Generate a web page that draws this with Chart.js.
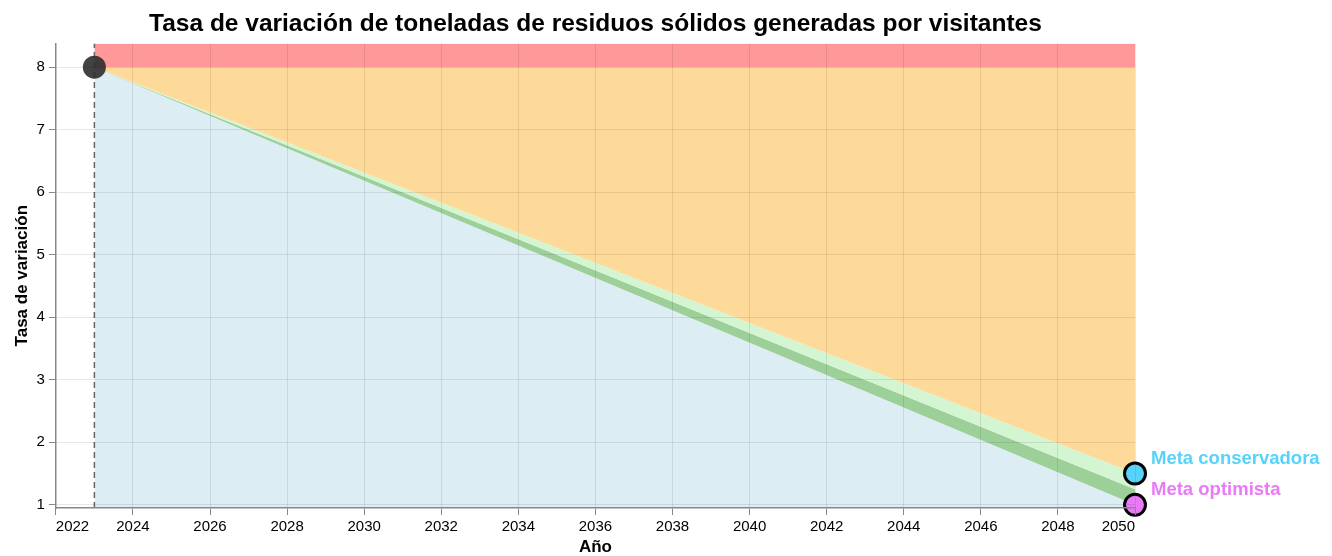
<!DOCTYPE html>
<html>
<head>
    <title>Tasa de variación de residuos sólidos</title>
    <script src="https://cdn.jsdelivr.net/npm/chart.js"></script>
    <style>
        body { margin: 0; background: #fff; }
        #wrap { width: 1332px; height: 556px; }
    </style>
</head>
<body>
    <div id="wrap"><canvas id="myChart" width="1332" height="556"></canvas></div>
    <script>
        // datos
        var years = [2023, 2050];
        var conservadora = [8, 1.5];
        var intermedia = [8, 1.25];
        var optimista = [8, 1];
        var limite = 8;
        var yMin = 0.95;
        var yMax = 8.38;
        var xMin = 2022;
        var xMax = 2050;
        var yTicks = [1, 2, 3, 4, 5, 6, 7, 8];
        var metas = [
            { label: 'Meta conservadora', year: 2050, value: 1.5, color: '#55d3fb' },
            { label: 'Meta optimista', year: 2050, value: 1, color: '#ea79f8' }
        ];

        var FONT = '"Liberation Sans", Arial, sans-serif';

        function pts(vals) {
            return years.map(function (y, i) { return { x: y, y: vals[i] }; });
        }

        // etiquetas de metas y etiquetas extremas del eje x (alineadas al borde)
        var labelsPlugin = {
            id: 'metaLabels',
            afterDraw: function (chart) {
                var ctx = chart.ctx;
                var xs = chart.scales.x, ys = chart.scales.y;
                ctx.save();
                ctx.font = 'bold 18.5px ' + FONT;
                ctx.textBaseline = 'middle';
                ctx.textAlign = 'left';
                metas.forEach(function (m) {
                    ctx.fillStyle = m.color;
                    ctx.fillText(m.label, xs.getPixelForValue(m.year) + 16, ys.getPixelForValue(m.value) - 15);
                });
                ctx.font = '15px ' + FONT;
                ctx.fillStyle = '#000';
                ctx.textBaseline = 'middle';
                var ty = chart.chartArea.bottom + 7 + 3 + 9;
                ctx.textAlign = 'left';
                ctx.fillText(String(xMin), xs.getPixelForValue(xMin), ty);
                ctx.textAlign = 'right';
                ctx.fillText(String(xMax), xs.getPixelForValue(xMax), ty);
                ctx.restore();
            }
        };

        var ctx = document.getElementById('myChart').getContext('2d');
        var myChart = new Chart(ctx, {
            type: 'line',
            data: {
                datasets: [
                    {   // franja roja sobre el limite
                        data: pts([yMax, yMax]),
                        borderWidth: 0, pointRadius: 0, order: 10,
                        backgroundColor: '#ff9898',
                        fill: { value: limite }
                    },
                    {   // naranja: entre limite y meta conservadora
                        data: pts(conservadora),
                        borderWidth: 0, pointRadius: 0, order: 10,
                        backgroundColor: '#fdda99',
                        fill: { value: limite }
                    },
                    {   // verde claro
                        data: pts(intermedia),
                        borderWidth: 0, pointRadius: 0, order: 10,
                        backgroundColor: '#d3f5d2',
                        fill: 1
                    },
                    {   // verde oscuro
                        data: pts(optimista),
                        borderWidth: 0, pointRadius: 0, order: 10,
                        backgroundColor: '#9dcf99',
                        fill: 2
                    },
                    {   // azul debajo
                        data: pts(optimista),
                        borderWidth: 0, pointRadius: 0, order: 10,
                        backgroundColor: '#ddedf4',
                        fill: 'start'
                    },
                    {   // linea vertical punteada del año base
                        data: [{ x: years[0], y: yMin }, { x: years[0], y: yMax }],
                        borderColor: '#666',
                        borderWidth: 1.5,
                        borderDash: [6, 4],
                        pointRadius: 0,
                        order: 5,
                        fill: false
                    },
                    {   // punto inicial
                        data: [{ x: years[0], y: conservadora[0] }],
                        showLine: false,
                        pointRadius: 11.5,
                        pointBackgroundColor: 'rgba(45,45,45,0.9)',
                        pointBorderWidth: 0,
                        order: 1,
                        clip: false
                    },
                    {
                        data: [{ x: metas[0].year, y: metas[0].value }],
                        showLine: false,
                        pointRadius: 10.5,
                        pointBackgroundColor: metas[0].color,
                        pointBorderColor: '#000',
                        pointBorderWidth: 3,
                        order: 1,
                        clip: false
                    },
                    {
                        data: [{ x: metas[1].year, y: metas[1].value }],
                        showLine: false,
                        pointRadius: 10.5,
                        pointBackgroundColor: metas[1].color,
                        pointBorderColor: '#000',
                        pointBorderWidth: 3,
                        order: 1,
                        clip: false
                    }
                ]
            },
            options: {
                responsive: false,
                animation: false,
                layout: { padding: { left: 13.5, right: 197, top: 0, bottom: 0 } },
                plugins: {
                    legend: { display: false },
                    tooltip: { enabled: false },
                    title: {
                        display: true,
                        fullSize: false,
                        text: 'Tasa de variación de toneladas de residuos sólidos generadas por visitantes',
                        color: '#000',
                        font: { family: FONT, size: 24.5, weight: 'bold' },
                        padding: { top: 10, bottom: 4 }
                    }
                },
                scales: {
                    x: {
                        type: 'linear',
                        min: xMin,
                        max: xMax,
                        grid: { color: 'rgba(0,0,0,0.09)', tickColor: '#888', tickLength: 7, z: 1 },
                        border: { color: '#888', width: 1.5, z: 2 },
                        ticks: {
                            stepSize: 2,
                            color: '#000',
                            maxRotation: 0,
                            padding: 3,
                            font: { family: FONT, size: 15 },
                            callback: function (v) {
                                if (v === xMin || v === xMax) return ' ';
                                return String(v);
                            }
                        },
                        title: {
                            display: true,
                            text: 'Año',
                            color: '#000',
                            padding: { top: 0, bottom: 0 },
                            font: { family: FONT, size: 17, weight: 'bold', lineHeight: 1 }
                        }
                    },
                    y: {
                        min: yMin,
                        max: yMax,
                        afterBuildTicks: function (s) {
                            s.ticks = yTicks.map(function (v) { return { value: v }; });
                        },
                        grid: { color: 'rgba(0,0,0,0.09)', tickColor: '#888', tickLength: 7, z: 1 },
                        border: { color: '#888', width: 1.5, z: 2 },
                        ticks: {
                            color: '#000',
                            padding: 4,
                            font: { family: FONT, size: 15 }
                        },
                        title: {
                            display: true,
                            text: 'Tasa de variación',
                            color: '#000',
                            padding: { top: 0, bottom: 2 },
                            font: { family: FONT, size: 17, weight: 'bold', lineHeight: 1 }
                        }
                    }
                }
            },
            plugins: [labelsPlugin]
        });
    </script>
</body>
</html>
